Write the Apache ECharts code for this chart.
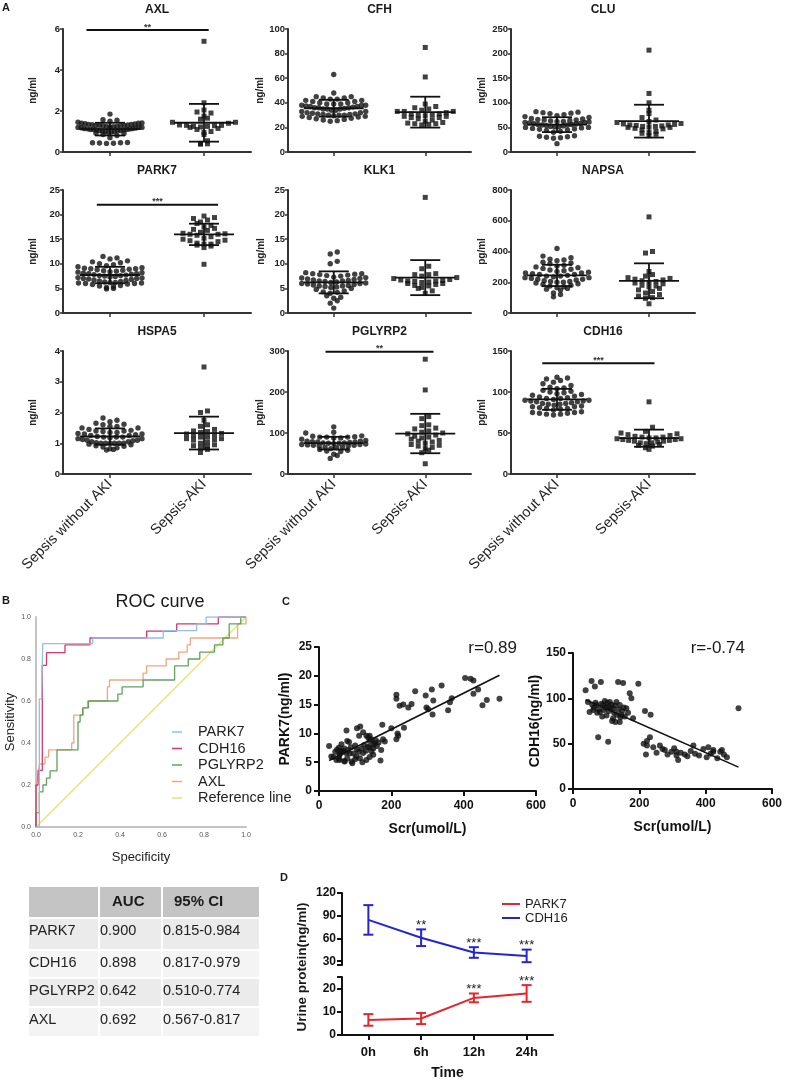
<!DOCTYPE html>
<html>
<head>
<meta charset="utf-8">
<title>Sepsis AKI urine biomarkers</title>
<script src="https://cdn.jsdelivr.net/npm/echarts@6.0.0/dist/echarts.min.js"></script>
<style>
  html, body { margin: 0; padding: 0; background: #fff; }
  #main { width: 796px; height: 1081px; }
</style>
</head>
<body>
<div id="main"></div>
<script>
// ---------- A: scatter dot plots ----------
var groups = ['Sepsis without AKI', 'Sepsis-AKI'];
var markers = ['AXL', 'CFH', 'CLU', 'PARK7', 'KLK1', 'NAPSA', 'HSPA5', 'PGLYRP2', 'CDH16'];
var units = ['ng/ml', 'ng/ml', 'ng/ml', 'ng/ml', 'ng/ml', 'pg/ml', 'ng/ml', 'pg/ml', 'pg/ml'];
var axisMax = [6, 100, 250, 25, 25, 800, 4, 300, 150];
var axisStep = [2, 20, 50, 5, 5, 200, 1, 100, 50];

var axlNoAki = [0.42,0.43,0.44,0.45,0.45,0.46,0.7,0.8,0.85,0.9,0.92,0.95,0.97,1.0,1.0,1.02,1.03,1.05,1.05,1.07,1.08,1.1,1.1,1.1,1.12,1.13,1.15,1.15,1.17,1.18,1.2,1.2,1.2,1.22,1.23,1.25,1.25,1.27,1.28,1.3,1.3,1.3,1.32,1.33,1.35,1.35,1.37,1.38,1.4,1.4,1.42,1.45,1.5,1.55,1.57,1.85];
var axlAki = [0.38,0.4,0.42,0.55,0.85,0.95,1.0,1.1,1.15,1.2,1.22,1.25,1.25,1.28,1.3,1.3,1.32,1.4,1.45,1.45,1.6,1.65,1.75,1.9,1.95,2.05,2.4,5.4];
var cfhNoAki = [25,25.5,26,26.5,27,27.5,28,28.5,29,29,29.5,30,30,30,30.5,30.5,31,31,31.5,32,32,33,33,34,34,35,35,35,35.5,36,36,36,36.5,37,37,37.5,38,38,38,39,39,39,40,40,41,41,42,42,43,43,44,44,45,45,48,63];
var cfhAki = [22,22.5,23,23,23.5,24,25,26,27,28,28,29,29,29.5,30,30,31,31,32,33,33,33,34,35,36,37,39,61,85];
var cluNoAki = [17,28,29,30,31,32,33,40,42,44,45,46,47,48,49,50,50,51,52,52,53,54,55,55,56,56,57,58,58,59,60,60,61,62,62,63,64,65,65,66,67,68,70,72,74,76,78,79,80,81,82];
var cluAki = [33,36,38,40,42,45,47,48,50,50,51,52,52,53,54,55,55,56,57,58,60,62,65,70,78,85,100,119,207];
var park7NoAki = [4.9,5.0,5.2,5.4,5.5,5.6,5.8,5.9,6.0,6.0,6.1,6.1,6.2,6.2,6.3,6.4,6.5,6.6,6.7,6.8,6.9,7.0,7.0,7.1,7.2,7.3,7.4,7.5,7.6,7.6,7.7,7.8,7.9,8.0,8.0,8.1,8.2,8.3,8.4,8.5,8.6,8.7,8.8,8.9,9.0,9.0,9.1,9.2,9.4,9.6,9.8,10.0,10.2,10.4,10.6,11.0,11.2,11.5];
var park7Aki = [9.9,13.3,13.6,13.8,14.0,14.0,14.2,14.5,14.7,14.8,15.0,15.2,15.5,15.8,16.0,16.0,16.1,16.2,16.4,16.8,17.0,17.2,17.5,17.8,18.2,18.5,18.9,19.2,19.4,19.7];
var klk1NoAki = [1.0,2.0,2.5,3.0,3.2,3.5,4.0,4.2,4.3,4.5,4.8,5.0,5.2,5.3,5.4,5.5,5.5,5.6,5.7,5.8,5.9,6.0,6.0,6.1,6.2,6.3,6.4,6.5,6.5,6.6,6.7,6.8,6.9,7.0,7.1,7.2,7.3,7.5,7.6,7.7,7.8,7.9,8.0,8.0,8.2,10.0,10.5,12.0,12.4];
var klk1Aki = [4.0,4.5,5.0,5.2,5.5,5.6,5.8,6.0,6.0,6.2,6.3,6.4,6.5,6.5,6.6,6.7,6.8,7.0,7.2,7.5,7.8,7.8,8.0,9.0,9.5,23.5];
var napsaNoAki = [105,120,130,150,155,160,165,170,175,180,185,190,195,200,200,205,205,210,215,220,220,225,230,230,235,240,240,245,250,250,255,260,260,265,270,275,280,285,290,295,300,305,310,320,325,330,340,345,350,360,370,420];
var napsaAki = [60,95,100,110,120,130,140,150,160,170,175,180,190,195,200,205,210,215,220,225,230,240,250,270,390,400,625];
var hspa5NoAki = [0.78,0.8,0.82,0.85,0.88,0.9,0.92,0.95,0.97,1.0,1.0,1.0,1.0,1.0,1.0,1.02,1.05,1.05,1.08,1.1,1.1,1.12,1.15,1.15,1.18,1.2,1.2,1.2,1.22,1.25,1.25,1.28,1.3,1.3,1.32,1.35,1.35,1.38,1.4,1.4,1.42,1.45,1.5,1.5,1.55,1.55,1.6,1.62,1.65,1.7,1.75,1.82];
var hspa5Aki = [0.7,0.8,0.85,0.9,0.92,0.95,1.0,1.05,1.1,1.12,1.15,1.15,1.2,1.22,1.25,1.28,1.3,1.32,1.35,1.38,1.4,1.45,1.55,1.6,1.75,2.0,2.05,3.48];
var pglyrp2NoAki = [38,45,48,55,56,58,60,62,64,65,66,68,68,70,70,71,72,72,73,74,75,75,76,76,77,78,78,79,80,80,82,85,88,88,90,90,90,91,92,93,100,102,115];
var pglyrp2Aki = [25,52,58,62,65,68,70,72,75,78,80,82,85,88,90,92,95,98,100,102,105,110,112,118,120,135,140,205,280];
var cdh16NoAki = [72,73,73,74,74,75,75,76,78,79,80,80,81,82,82,83,84,85,85,86,86,87,88,88,89,89,90,90,91,92,92,93,94,95,96,97,98,99,100,101,102,104,105,106,108,110,112,114,116,117,118];
var cdh16Aki = [30,32,34,35,36,37,38,38,39,40,40,41,41,42,42,43,43,44,44,45,45,46,47,48,49,50,52,57,88];

var sigPanels = [0, 3, 7, 8];
var sigStars = ['**', '***', '**', '***'];
var sigLevels = [5.95, 22, 298, 135];

// ---------- B: ROC ----------
var rocNames = ['PARK7', 'CDH16', 'PGLYRP2', 'AXL', 'Reference line'];
var park7Fpr = [0, 0.016, 0.027, 0.032, 0.27, 0.606, 0.765, 0.81, 1.0];
var park7Tpr = [0, 0.61, 0.635, 0.873, 0.9, 0.935, 0.967, 1.0, 1.0];
var cdh16Fpr = [0, 0, 0.01, 0.03, 0.05, 0.138, 0.257, 0.527, 0.67, 0.868, 1.0];
var cdh16Tpr = [0, 0.2, 0.27, 0.77, 0.83, 0.867, 0.9, 0.933, 0.967, 1.0, 1.0];
var pglyrp2Fpr = [0, 0, 0.016, 0.033, 0.05, 0.067, 0.1, 0.2, 0.21, 0.222, 0.25, 0.39, 0.41, 0.51, 0.66, 0.725, 0.78, 0.85, 0.89, 0.92, 0.975, 1.0];
var pglyrp2Tpr = [0, 0.067, 0.167, 0.2, 0.233, 0.267, 0.367, 0.5, 0.533, 0.567, 0.6, 0.633, 0.667, 0.7, 0.767, 0.8, 0.833, 0.867, 0.9, 0.967, 1.0, 1.0];
var axlFpr = [0, 0, 0.008, 0.016, 0.043, 0.06, 0.17, 0.18, 0.225, 0.245, 0.34, 0.35, 0.51, 0.527, 0.62, 0.68, 0.72, 0.735, 0.96, 1.0];
var axlTpr = [0, 0.2, 0.233, 0.3, 0.333, 0.367, 0.4, 0.533, 0.567, 0.6, 0.667, 0.7, 0.733, 0.767, 0.8, 0.833, 0.867, 0.9, 0.967, 1.0];
var refFpr = [0, 1], refTpr = [0, 1];

var aucRows = ['PARK7', 'CDH16', 'PGLYRP2', 'AXL'];
var aucValues = [0.900, 0.898, 0.642, 0.692];
var ciLow = [0.815, 0.817, 0.510, 0.567];
var ciHigh = [0.984, 0.979, 0.774, 0.817];

// ---------- C: correlation with Scr ----------
var scrPark7 = [28,34,40,45,48,50,55,55,57,57,57,60,62,65,66,70,70,71,75,76,78,78,80,83,85,88,90,92,95,100,100,103,105,105,110,111,113,114,118,120,122,122,125,130,131,131,135,136,140,140,140,140,145,145,150,150,150,154,157,160,165,170,172,175,177,182,200,214,214,214,217,219,223,233,235,247,256,266,295,297,302,312,314,316,339,357,362,367,404,419,427,427,440,452,464,499];
var park7Level = [7.8,6.0,5.9,6.8,5.4,7.2,7.5,5.6,6.4,6.3,5.4,6.9,8.1,7.0,6.8,7.4,5.2,5.1,6.6,10.5,8.7,5.7,7.1,8.5,6.5,7.6,5.1,4.8,6.5,7.9,5.5,6.0,7.2,10.9,6.8,9.6,5.7,11.2,7.4,5.0,10.2,6.6,8.0,7.0,9.6,5.4,7.7,9.3,8.7,7.6,9.6,5.9,9.0,6.9,8.1,7.4,6.3,8.3,8.8,7.8,8.4,5.3,7.1,11.5,9.0,8.6,10.9,9.0,16.7,16.0,10.0,9.6,14.8,15.0,11.0,14.5,15.1,17.3,16.6,14.5,14.2,17.6,13.3,15.7,18.3,14.0,15.4,16.1,19.6,19.5,19.2,16.9,17.6,14.9,15.8,16.0];
var scrCdh16 = [38,45,50,56,58,61,63,66,68,71,73,76,78,81,84,86,88,91,93,96,98,101,103,106,106,108,111,113,116,118,121,121,124,126,128,131,133,136,138,141,141,143,146,148,151,153,156,161,166,171,176,181,197,217,234,213,220,223,223,232,242,252,262,270,277,285,297,305,312,312,317,325,337,345,355,363,368,380,393,403,408,415,423,423,435,444,449,455,464,499];
var cdh16Level = [109,96,85,119,93,87,90,113,95,92.6,84,57,88,85,118,94,80,92.6,87,97,90,81,95,91,52,86,96,89,93,75,78,89,84,92,74,96,82,118,88,92.6,74,79,81.5,86,117,90,80,89,84,105.5,100,78,116,86,82,50,38,48,53,57,46,40,48,44,43,38,41,45,37,41,32,40,38,36,42,48,39,37,44,35,46,39,41,43,34,41,43,38,35,89];
var rPark7 = 0.89, rCdh16 = -0.74;

// ---------- D: time course ----------
var timePoints = ['0h', '6h', '12h', '24h'];
var cdh16Mean = [84.5, 61, 41.5, 37];
var cdh16Sd = [19.5, 11, 7, 8.3];
var park7Mean = [6.5, 7.1, 16, 17.9];
var park7Sd = [2.5, 2.4, 1.9, 3.6];
var cdh16Stars = ['', '**', '***', '***'];
var park7Stars = ['', '', '***', '***'];

// ================= build =================
var FONT = '"Liberation Sans", Arial, Helvetica, sans-serif';
var INK = '#1a1a1a';
var grids = [], xAxes = [], yAxes = [], series = [], graphics = [];

function text(str, x, y, size, weight, align, rot, color) {
  graphics.push({
    type: 'text', x: x, y: y, rotation: rot || 0, silent: true,
    style: {
      text: str, fill: color || INK, fontSize: size, fontWeight: weight || 'normal', fontFamily: FONT,
      textAlign: align || 'center', textVerticalAlign: 'middle', align: align || 'center', verticalAlign: 'middle'
    }
  });
}

function meanSd(a) {
  var m = a.reduce(function (s, v) { return s + v; }, 0) / a.length;
  var ss = a.reduce(function (s, v) { return s + (v - m) * (v - m); }, 0);
  return [m, Math.sqrt(ss / (a.length - 1))];
}

// Prism-like column scatter: bin by value, spread each bin sideways
function swarm(values, center, yPx, xPx) {
  var binSize = 5.5 / yPx, bins = {};
  values.slice().sort(function (a, b) { return a - b; }).forEach(function (v) {
    var k = Math.round(v / binSize);
    (bins[k] = bins[k] || []).push(v);
  });
  var pts = [];
  Object.keys(bins).forEach(function (k) {
    var arr = bins[k], n = arr.length;
    var step = (n > 1 ? Math.min(7, 64 / (n - 1)) : 7) / xPx;
    arr.forEach(function (v, j) {
      var slot = j === 0 ? 0 : (j % 2 ? (j + 1) / 2 : -j / 2);
      if (n % 2 === 0) slot -= 0.5;
      pts.push([center + slot * step, v]);
    });
  });
  return pts;
}

function meanSdItem(params, api) {
  var x = api.value(0), m = api.value(1), s = api.value(2);
  var c = api.coord([x, m]), t = api.coord([x, m + s]), b = api.coord([x, Math.max(m - s, 0)]);
  var st = { stroke: '#111', lineWidth: 1.8 };
  return { type: 'group', children: [
    { type: 'line', shape: { x1: c[0] - 30, y1: c[1], x2: c[0] + 30, y2: c[1] }, style: st },
    { type: 'line', shape: { x1: t[0], y1: t[1], x2: b[0], y2: b[1] }, style: st },
    { type: 'line', shape: { x1: t[0] - 15, y1: t[1], x2: t[0] + 15, y2: t[1] }, style: st },
    { type: 'line', shape: { x1: b[0] - 15, y1: b[1], x2: b[0] + 15, y2: b[1] }, style: st }
  ] };
}

var dotSets = [
  [axlNoAki, axlAki], [cfhNoAki, cfhAki], [cluNoAki, cluAki],
  [park7NoAki, park7Aki], [klk1NoAki, klk1Aki], [napsaNoAki, napsaAki],
  [hspa5NoAki, hspa5Aki], [pglyrp2NoAki, pglyrp2Aki], [cdh16NoAki, cdh16Aki]
];
var colLeft = [63, 288, 511], colWidth = [188, 183, 184];
var rowTop = [29, 190, 351], plotH = 123;
var nameGaps = [25, 22, 24];
var sigSpan = [[0.75, 2.05], [0.86, 2.15], [0.91, 2.09], [0.84, 2.06]];

dotSets.forEach(function (sets, i) {
  var row = Math.floor(i / 3), col = i % 3;
  var left = colLeft[col], top = rowTop[row], w = colWidth[col];
  grids.push({ left: left, top: top, width: w, height: plotH });
  xAxes.push({
    gridIndex: i, type: 'value', min: 0.5, max: 2.5,
    axisLine: { onZero: false, lineStyle: { color: '#333', width: 2 } },
    axisTick: { show: true, customValues: [1, 2], length: 4, lineStyle: { color: '#333', width: 1.5 } },
    axisLabel: row === 2 ? {
      customValues: [1, 2], rotate: 45, fontSize: 14.5, color: '#222', margin: 8,
      formatter: function (v) { return groups[Math.round(v) - 1]; }
    } : { show: false },
    splitLine: { show: false }
  });
  yAxes.push({
    gridIndex: i, type: 'value', min: 0, max: axisMax[i], interval: axisStep[i],
    name: units[i], nameLocation: 'middle', nameGap: nameGaps[col],
    nameTextStyle: { fontSize: 10, fontWeight: 'bold', color: '#222' },
    axisLine: { show: true, onZero: false, lineStyle: { color: '#333', width: 2 } },
    axisTick: { show: true, length: 3, lineStyle: { color: '#333', width: 1.5 } },
    axisLabel: { fontSize: 9.5, fontWeight: 'bold', color: '#222', margin: 3 },
    splitLine: { show: false }
  });
  var yPx = plotH / axisMax[i], xPx = w / 2;
  series.push({
    type: 'scatter', xAxisIndex: i, yAxisIndex: i, symbol: 'circle', symbolSize: 5.4,
    itemStyle: { color: '#111' }, data: swarm(sets[0], 1, yPx, xPx), silent: true
  });
  series.push({
    type: 'scatter', xAxisIndex: i, yAxisIndex: i, symbol: 'rect', symbolSize: 5,
    itemStyle: { color: '#111' }, data: swarm(sets[1], 2, yPx, xPx), silent: true
  });
  series.push({
    type: 'custom', xAxisIndex: i, yAxisIndex: i, renderItem: meanSdItem, clip: false, z: 5, silent: true,
    data: [[1].concat(meanSd(sets[0])), [2].concat(meanSd(sets[1]))]
  });
  text(markers[i], left + w / 2, top - 19, 12, 'bold');
});

sigPanels.forEach(function (p, k) {
  series.push({
    type: 'custom', xAxisIndex: p, yAxisIndex: p, clip: false, silent: true, z: 6,
    data: [[sigSpan[k][0], sigSpan[k][1], sigLevels[k]]],
    renderItem: function (params, api) {
      var a = api.coord([api.value(0), api.value(2)]), b = api.coord([api.value(1), api.value(2)]);
      return { type: 'group', children: [
        { type: 'line', shape: { x1: a[0], y1: a[1], x2: b[0], y2: b[1] }, style: { stroke: '#111', lineWidth: 2 } },
        { type: 'text', x: (a[0] + b[0]) / 2, y: a[1] - 3, style: {
          text: sigStars[k], fill: '#333', fontSize: 9, fontWeight: 'bold', fontFamily: FONT,
          align: 'center', verticalAlign: 'middle', textAlign: 'center', textVerticalAlign: 'middle' } }
      ] };
    }
  });
});

// ---- B: ROC ----
var ROC = 9;
grids.push({ left: 36, top: 617, width: 210, height: 210 });
var rocAxis = {
  type: 'value', min: 0, max: 1, interval: 0.2, nameLocation: 'middle',
  nameTextStyle: { fontSize: 13, color: '#222' },
  axisLine: { onZero: false, lineStyle: { color: '#c4c4c4', width: 2 } },
  axisTick: { show: false },
  axisLabel: { fontSize: 7, color: '#555', margin: 5, formatter: function (v) { return v.toFixed(1); } },
  splitLine: { show: false }
};
xAxes.push(Object.assign({}, rocAxis, { gridIndex: ROC, name: 'Specificity', nameGap: 24 }));
yAxes.push(Object.assign({}, rocAxis, { gridIndex: ROC, name: 'Sensitivity', nameGap: 17 }));
var rocColors = ['#94bfe8', '#d9366b', '#5fa35f', '#f3a583', '#e6e26c'];
[[park7Fpr, park7Tpr], [cdh16Fpr, cdh16Tpr], [pglyrp2Fpr, pglyrp2Tpr], [axlFpr, axlTpr], [refFpr, refTpr]].forEach(function (c, k) {
  series.push({
    name: rocNames[k], type: 'line', xAxisIndex: ROC, yAxisIndex: ROC, step: k < 4 ? 'end' : false,
    showSymbol: false, symbol: 'none', silent: true, z: 10 - k,
    lineStyle: { color: rocColors[k], width: 1.3 }, itemStyle: { color: rocColors[k] },
    data: c[0].map(function (x, j) { return [x, c[1][j]]; })
  });
});
text('ROC curve', 160, 602, 18);
text('B', 2, 601, 11, 'bold', 'left');

// table
var colX = [28, 99, 162, 260];
var rowY = [886, 918, 950, 978, 1007, 1037];
for (var r = 0; r < 5; r++) {
  for (var c = 0; c < 3; c++) {
    graphics.push({ type: 'rect', silent: true,
      shape: { x: colX[c] + 1, y: rowY[r] + 1, width: colX[c + 1] - colX[c] - 2, height: rowY[r + 1] - rowY[r] - 2 },
      style: { fill: r === 0 ? '#c4c4c4' : (r % 2 ? '#ebebeb' : '#f4f4f4') } });
  }
}
text('AUC', 112, 902, 15, 'bold', 'left');
text('95% CI', 174, 902, 15, 'bold', 'left');
aucRows.forEach(function (nm, k) {
  var y = rowY[k + 1] + 13;
  text(nm, 29, y, 14.5, 'normal', 'left', 0, '#222');
  text(aucValues[k].toFixed(3), 100, y, 14.5, 'normal', 'left', 0, '#222');
  text(ciLow[k].toFixed(3) + '-' + ciHigh[k].toFixed(3), 163, y, 14.5, 'normal', 'left', 0, '#222');
});

// ---- C: correlation ----
function fit(xs, ys) {
  var n = xs.length, mx = 0, my = 0, sxy = 0, sxx = 0;
  xs.forEach(function (x, j) { mx += x / n; my += ys[j] / n; });
  xs.forEach(function (x, j) { sxy += (x - mx) * (ys[j] - my); sxx += (x - mx) * (x - mx); });
  var b = sxy / sxx, a = my - b * mx;
  var x0 = Math.min.apply(null, xs), x1 = Math.max.apply(null, xs);
  return [[x0, a + b * x0], [x1, a + b * x1]];
}
var boldAxis = {
  axisLine: { show: true, onZero: false, lineStyle: { color: '#111', width: 2 } },
  axisTick: { show: true, length: 5, lineStyle: { color: '#111', width: 2 } },
  axisLabel: { fontSize: 12, fontWeight: 'bold', color: '#111' },
  splitLine: { show: false },
  nameLocation: 'middle',
  nameTextStyle: { fontSize: 14, fontWeight: 'bold', color: '#111' }
};
var cPanels = [
  { grid: { left: 319, top: 647, width: 217, height: 144 }, xs: scrPark7, ys: park7Level, yMax: 25, yStep: 5, yName: 'PARK7(ng/ml)', yGap: 27, r: rPark7, rx: 517 },
  { grid: { left: 573, top: 653, width: 199, height: 136 }, xs: scrCdh16, ys: cdh16Level, yMax: 150, yStep: 50, yName: 'CDH16(ng/ml)', yGap: 31, r: rCdh16, rx: 745 }
];
cPanels.forEach(function (p, k) {
  var gi = grids.length;
  grids.push(p.grid);
  xAxes.push(Object.assign({}, boldAxis, { gridIndex: gi, type: 'value', min: 0, max: 600, interval: 200,
    name: 'Scr(umol/L)', nameGap: 31, axisLabel: Object.assign({}, boldAxis.axisLabel, { margin: 9 }) }));
  yAxes.push(Object.assign({}, boldAxis, { gridIndex: gi, type: 'value', min: 0, max: p.yMax, interval: p.yStep,
    name: p.yName, nameGap: p.yGap, axisLabel: Object.assign({}, boldAxis.axisLabel, { margin: 7 }) }));
  series.push({ type: 'scatter', xAxisIndex: gi, yAxisIndex: gi, symbolSize: 6, silent: true,
    itemStyle: { color: '#111' }, data: p.xs.map(function (x, j) { return [x, p.ys[j]]; }) });
  series.push({ type: 'line', xAxisIndex: gi, yAxisIndex: gi, symbol: 'none', silent: true,
    lineStyle: { color: '#111', width: 1.6 }, data: fit(p.xs, p.ys) });
  text('r=' + p.r.toFixed(2), p.rx, 648, 17, 'normal', 'right');
});
text('C', 282, 602, 11, 'bold', 'left');

// ---- D: time course with broken y axis ----
var DU = grids.length, DL = DU + 1;
grids.push({ left: 342, top: 893, width: 211, height: 72 });
grids.push({ left: 342, top: 977, width: 211, height: 60 });
xAxes.push({ gridIndex: DU, type: 'category', data: timePoints, show: false });
xAxes.push(Object.assign({}, boldAxis, { gridIndex: DL, type: 'category', data: timePoints, name: 'Time', nameGap: 31,
  axisTick: { show: true, alignWithLabel: true, length: 5, lineStyle: { color: '#111', width: 2 } },
  axisLabel: { fontSize: 13, fontWeight: 'bold', color: '#111', margin: 11 } }));
var dYLabel = { fontSize: 12, fontWeight: 'bold', color: '#111', margin: 6 };
yAxes.push(Object.assign({}, boldAxis, { gridIndex: DU, type: 'value', min: 25, max: 120,
  axisTick: { show: true, length: 5, customValues: [25, 30, 60, 90, 120], lineStyle: { color: '#111', width: 2 } },
  axisLabel: Object.assign({ customValues: [30, 60, 90, 120] }, dYLabel) }));
yAxes.push(Object.assign({}, boldAxis, { gridIndex: DL, type: 'value', min: 0, max: 25,
  axisTick: { show: true, length: 5, customValues: [0, 10, 20, 25], lineStyle: { color: '#111', width: 2 } },
  axisLabel: Object.assign({ customValues: [0, 10, 20] }, dYLabel) }));

function errItem(params, api) {
  var x = api.value(0), m = api.value(1), s = api.value(2);
  var t = api.coord([x, m + s]), b = api.coord([x, m - s]);
  var st = { stroke: api.visual('color'), lineWidth: 2 };
  return { type: 'group', children: [
    { type: 'line', shape: { x1: t[0], y1: t[1], x2: b[0], y2: b[1] }, style: st },
    { type: 'line', shape: { x1: t[0] - 5, y1: t[1], x2: t[0] + 5, y2: t[1] }, style: st },
    { type: 'line', shape: { x1: b[0] - 5, y1: b[1], x2: b[0] + 5, y2: b[1] }, style: st }
  ] };
}
[
  { name: 'D-CDH16', grid: DU, mean: cdh16Mean, sd: cdh16Sd, stars: cdh16Stars, color: '#2424d4' },
  { name: 'D-PARK7', grid: DL, mean: park7Mean, sd: park7Sd, stars: park7Stars, color: '#e8252b' }
].forEach(function (d) {
  series.push({ name: d.name, type: 'line', xAxisIndex: d.grid, yAxisIndex: d.grid, symbol: 'none', silent: true,
    lineStyle: { color: d.color, width: 2 }, itemStyle: { color: d.color }, data: d.mean });
  series.push({ type: 'custom', xAxisIndex: d.grid, yAxisIndex: d.grid, renderItem: errItem, clip: false, silent: true,
    itemStyle: { color: d.color }, data: d.mean.map(function (m, j) { return [j, m, d.sd[j]]; }) });
  series.push({ type: 'custom', xAxisIndex: d.grid, yAxisIndex: d.grid, clip: false, silent: true,
    data: d.mean.map(function (m, j) { return [j, m + d.sd[j]]; }),
    renderItem: function (params, api) {
      var p = api.coord([api.value(0), api.value(1)]);
      return { type: 'text', x: p[0], y: p[1] - 4, style: {
        text: d.stars[params.dataIndex], fill: '#222', fontSize: 13, fontFamily: FONT,
        align: 'center', verticalAlign: 'middle', textAlign: 'center', textVerticalAlign: 'middle' } };
    } });
});
text('Urine protein(ng/ml)', 302, 967, 13.5, 'bold', 'center', Math.PI / 2);
text('D', 280, 878, 11, 'bold', 'left');
text('A', 2, 8, 11, 'bold', 'left');

var chart = echarts.init(document.getElementById('main'), null, { width: 796, height: 1081 });
chart.setOption({
  animation: false,
  backgroundColor: '#fff',
  textStyle: { fontFamily: FONT },
  grid: grids,
  xAxis: xAxes,
  yAxis: yAxes,
  legend: [
    { data: rocNames, orient: 'vertical', left: 167, top: 719, icon: 'rect', itemWidth: 10, itemHeight: 1.5,
      itemGap: 0.5, selectedMode: false, textStyle: { fontSize: 14.5, color: '#222', lineHeight: 16, padding: [0, 0, 0, 11] } },
    { data: ['D-PARK7', 'D-CDH16'], orient: 'vertical', left: 497, top: 892, icon: 'rect', itemWidth: 18, itemHeight: 2,
      itemGap: 0, selectedMode: false, formatter: function (n) { return n.replace('D-', ''); },
      textStyle: { fontSize: 13, color: '#222', lineHeight: 14, padding: [0, 0, 0, 0] } }
  ],
  series: series,
  graphic: { elements: graphics }
});
</script>
</body>
</html>
